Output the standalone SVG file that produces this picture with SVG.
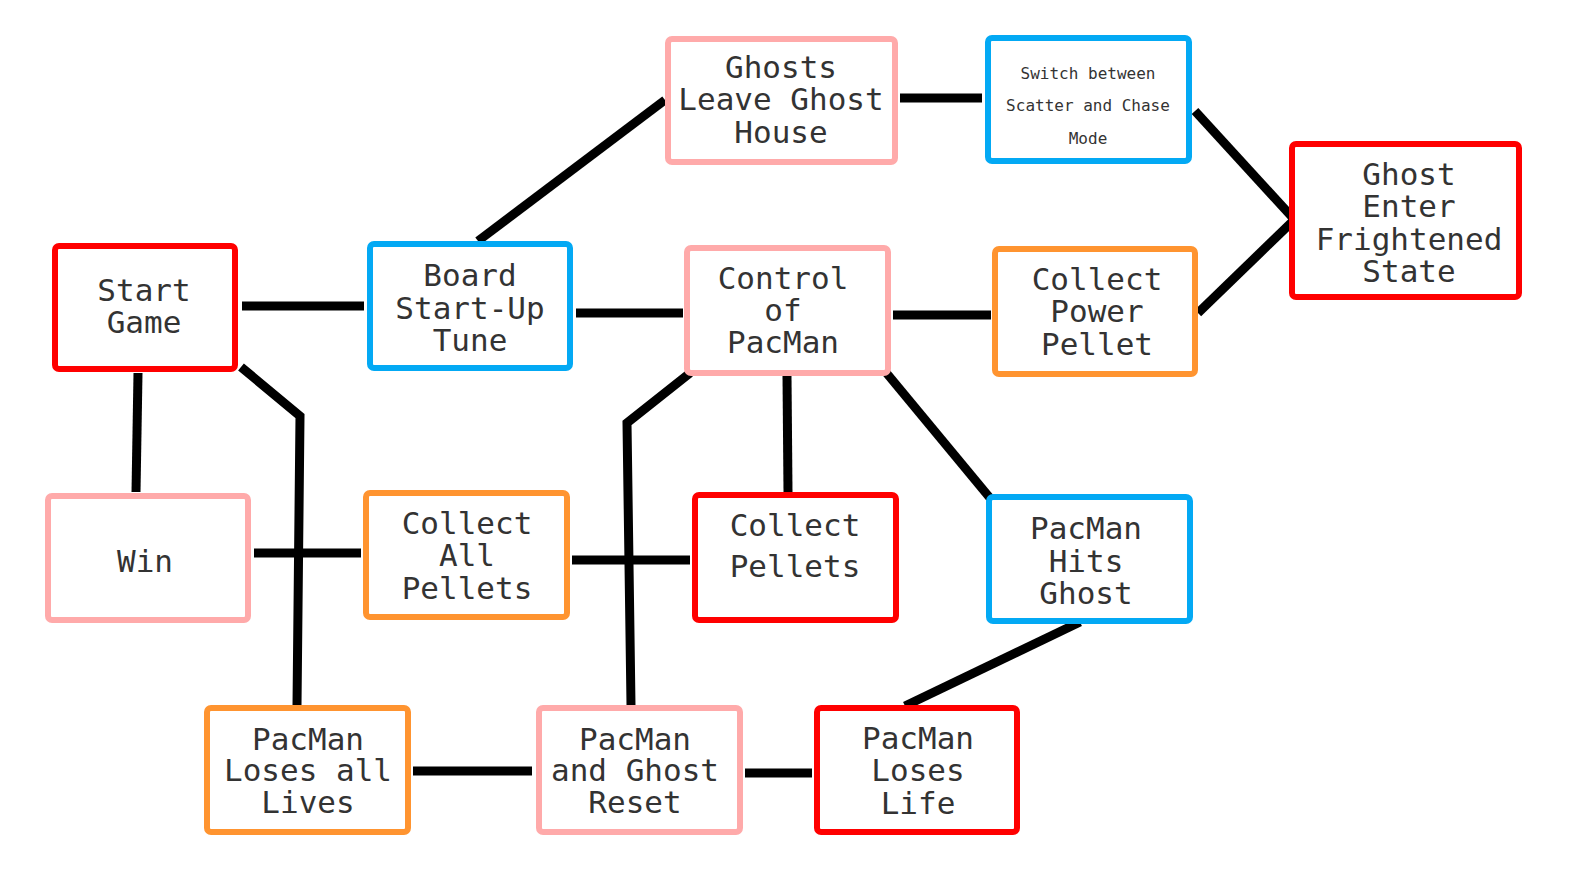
<svg xmlns="http://www.w3.org/2000/svg" width="1569" height="874" viewBox="0 0 1569 874">
<style>
.n{fill:#fff;stroke-width:6}
.red{stroke:#ff0000}.blue{stroke:#03a9f4}.pink{stroke:#ffaaaa}.orange{stroke:#ff9430}
text{font-family:"DejaVu Sans Mono","Liberation Mono",monospace;font-size:31px;fill:#333;text-anchor:middle}
.s{font-size:16px}
#edges line,#edges polyline{stroke:#000;stroke-width:9;fill:none}
</style>
<rect width="1569" height="874" fill="#fff"/>
<g id="edges">
<line x1="242" y1="306" x2="364" y2="306"/>
<line x1="478" y1="241" x2="665" y2="100"/>
<line x1="900" y1="98" x2="982" y2="98"/>
<line x1="1195" y1="111" x2="1293" y2="218"/>
<line x1="1198" y1="313" x2="1293" y2="221"/>
<line x1="576" y1="313" x2="683" y2="313"/>
<line x1="893" y1="315" x2="991" y2="315"/>
<line x1="787" y1="376" x2="788" y2="492"/>
<line x1="884" y1="370" x2="990" y2="498"/>
<polyline points="690,373 627,423 631,705"/>
<line x1="138" y1="373" x2="136" y2="492"/>
<polyline points="241,367 300,416 297,705"/>
<line x1="254" y1="553" x2="361" y2="553"/>
<line x1="572" y1="560" x2="690" y2="560"/>
<line x1="413" y1="771" x2="532" y2="771"/>
<line x1="745" y1="773" x2="812" y2="773"/>
<line x1="1080" y1="622" x2="905" y2="706"/>
</g>
<g id="start"><rect class="n red" x="55" y="246" width="180" height="123" rx="4"/><text x="144" y="301">Start</text><text x="144" y="333">Game</text></g>
<g id="board"><rect class="n blue" x="370" y="244" width="200" height="124" rx="4"/><text x="470" y="286">Board</text><text x="470" y="319">Start-Up</text><text x="470" y="351">Tune</text></g>
<g id="leave"><rect class="n pink" x="668" y="39" width="227" height="123" rx="4"/><text x="781" y="78">Ghosts</text><text x="781" y="110">Leave Ghost</text><text x="781" y="143">House</text></g>
<g id="switch"><rect class="n blue" x="988" y="38" width="201" height="123" rx="4"/><text class="s" x="1088" y="79">Switch between</text><text class="s" x="1088" y="111">Scatter and Chase</text><text class="s" x="1088" y="144">Mode</text></g>
<g id="frightened"><rect class="n red" x="1292" y="144" width="227" height="153" rx="4"/><text x="1409" y="185">Ghost</text><text x="1409" y="217">Enter</text><text x="1409" y="250">Frightened</text><text x="1409" y="282">State</text></g>
<g id="control"><rect class="n pink" x="687" y="248" width="201" height="125" rx="4"/><text x="783" y="289">Control</text><text x="783" y="321">of</text><text x="783" y="353">PacMan</text></g>
<g id="power"><rect class="n orange" x="995" y="249" width="200" height="125" rx="4"/><text x="1097" y="290">Collect</text><text x="1097" y="322">Power</text><text x="1097" y="355">Pellet</text></g>
<g id="win"><rect class="n pink" x="48" y="496" width="200" height="124" rx="4"/><text x="145" y="572">Win</text></g>
<g id="allpellets"><rect class="n orange" x="366" y="493" width="201" height="124" rx="4"/><text x="467" y="534">Collect</text><text x="467" y="566">All</text><text x="467" y="599">Pellets</text></g>
<g id="pellets"><rect class="n red" x="695" y="495" width="201" height="125" rx="4"/><text x="795" y="536">Collect</text><text x="795" y="577">Pellets</text></g>
<g id="hits"><rect class="n blue" x="989" y="497" width="201" height="124" rx="4"/><text x="1086" y="539">PacMan</text><text x="1086" y="572">Hits</text><text x="1086" y="604">Ghost</text></g>
<g id="alllives"><rect class="n orange" x="207" y="708" width="201" height="124" rx="4"/><text x="308" y="750">PacMan</text><text x="308" y="781">Loses all</text><text x="308" y="813">Lives</text></g>
<g id="reset"><rect class="n pink" x="539" y="708" width="201" height="124" rx="4"/><text x="635" y="750">PacMan</text><text x="635" y="781">and Ghost</text><text x="635" y="813">Reset</text></g>
<g id="loselife"><rect class="n red" x="817" y="708" width="200" height="124" rx="4"/><text x="918" y="749">PacMan</text><text x="918" y="781">Loses</text><text x="918" y="814">Life</text></g>
</svg>
